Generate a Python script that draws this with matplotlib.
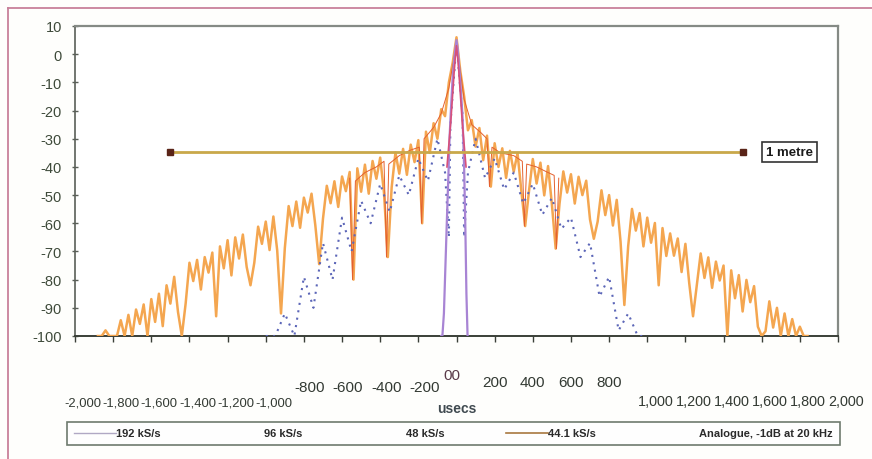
import numpy as np
import matplotlib
matplotlib.use("Agg")
import matplotlib.pyplot as plt
from matplotlib.lines import Line2D
import matplotlib.transforms as mtransforms

plt.rcParams['font.family'] = ['Liberation Sans', 'DejaVu Sans']

# ---------------- data ----------------
# 44.1 kS/s impulse response, sampled every 20 usec from -1880 to 1840
t_44k = np.arange(-1880, 1841, 20)
db_44k = [
    -100, -100, -98, -100, -100, -100, -94.4, -100, -92.5, -100,
    -90.6, -95.7, -88.8, -100, -86.9, -95, -85, -96.5, -82, -88.5,
    -79, -91.5, -100, -88.5, -74, -80.5, -73, -83.5, -72, -77.5,
    -70.4, -93, -68.2, -76, -66, -78.5, -65, -72.5, -64, -75.5,
    -82, -74, -61.2, -67.3, -59.4, -69.5, -57.6, -69.6, -92, -68.8,
    -53.9, -61, -52.3, -61.6, -50.9, -56.2, -49.5, -60.8, -74.5, -58.4,
    -46.7, -52.9, -45.1, -54.2, -43.4, -48.6, -41.8, -80, -40.5, -48.8,
    -39.2, -49.5, -37.9, -44.2, -36.7, -49.3, -72, -47.3, -34.9, -42.4,
    -33.6, -42.8, -32.1, -38.3, -30.5, -60, -27.5, -35, -24.5, -30,
    -19.5, -22, -10, -3, 6, -6, -15, -27, -23.4, -32.8,
    -26.2, -37.6, -28.9, -47, -31.6, -40, -33.4, -43.9, -34.3, -41.7,
    -35.1, -48.6, -61, -48.6, -37.2, -45.9, -38.5, -50.1, -39.7, -53.2,
    -69, -53.1, -41.6, -49.1, -42.6, -53, -43.5, -50, -44.9, -58.7,
    -65.5, -59.4, -48.3, -57.1, -50, -60.8, -51.7, -66.5, -89, -68.1,
    -54.9, -62.6, -56.4, -68.2, -58, -66.9, -59.9, -82, -61.7, -71.6,
    -63.6, -71.5, -65.4, -77.3, -67.3, -81.2, -93, -82, -70.7, -79.4,
    -72.1, -82.9, -73.6, -80.3, -75, -100, -76.7, -86.6, -78.4, -91.3,
    -80.1, -88, -82.3, -96.7, -100, -98.3, -87.7, -97, -90, -100,
    -92, -100, -94, -100, -96.7, -100, -100,
]

# 48 kS/s (red, visible mainly near the centre)
t_48k = [-560, -545, -530, -480, -420, -380, -367, -355,
         -300, -240, -195, -183, -170, -120, -80, -40, 0, 40,
         80, 130, 160, 173, 186, 230, 300, 345, 356, 368,
         420, 480, 512, 524, 536]
db_48k = [-44, -80, -45, -42, -40, -38, -72, -39,
          -36, -34, -33, -60, -30, -26, -21, -12, 4, -16,
          -25, -28, -30, -47, -33, -35, -36, -38, -61, -39,
          -40, -42, -43, -69, -44]

# 96 kS/s (blue dotted)
t_96k = [-1000, -950, -900, -850, -800, -750, -700, -650, -600, -550,
         -500, -450, -400, -350, -300, -250, -200, -150, -100, -60,
         -40, -32, 0, 32, 40, 60, 100, 150, 200, 250,
         300, 350, 400, 450, 500, 550, 600, 650, 700, 750,
         800, 850, 900, 950, 1000]
db_96k = [-100, -100, -92, -100, -79, -90, -67, -80, -58, -70,
          -52, -60, -46, -56, -43, -50, -37, -45, -30, -42,
          -65, -25, 4, -22, -65, -42, -30, -44, -37, -48,
          -42, -53, -46, -57, -51, -62, -58, -72, -67, -86,
          -79, -98, -92, -100, -100]

# 192 kS/s (violet, narrow)
t_192k = [-80, -74, -66, -58, -50, -42, -36, -28, -20, -12, -6, 0,
          6, 12, 20, 28, 32, 40, 46, 52, 58]
db_192k = [-100, -100, -92, -75, -58, -42, -29, -18, -8, -2, 2, 5,
           2, -3, -10, -18, -23, -40, -60, -85, -100]

# Analogue, -1dB at 20 kHz
t_analogue = [-50, -30, -20, -12, -6, 0, 6, 12, 20, 30, 50]
db_analogue = [-40, -24, -14, -6, -1, 3, -1, -6, -14, -24, -40]

# "1 metre" reference line
metre_t = [-1500, 1500]
metre_db = [-34.6, -34.6]

x_ticks = list(range(-2000, 2001, 200))
x_labels = ["-2,000", "-1,800", "-1,600", "-1,400", "-1,200", "-1,000",
            "-800", "-600", "-400", "-200", "0", "200", "400", "600", "800",
            "1,000", "1,200", "1,400", "1,600", "1,800", "2,000"]
y_ticks = list(range(-100, 11, 10))

series_labels = ["192 kS/s", "96 kS/s", "48 kS/s", "44.1 kS/s",
                 "Analogue, -1dB at 20 kHz"]

# ---------------- figure ----------------
W, H = 872, 460
fig = plt.figure(figsize=(W / 100, H / 100), dpi=100)
fig.patch.set_facecolor('#fefefc')

ax = fig.add_axes([75 / W, 1 - 337 / H, (838 - 75) / W, (337 - 27) / H])
ax.set_facecolor('white')

ax.plot(t_44k, db_44k, color='#f4a650', lw=1.8, zorder=3)
ax.plot(t_48k, db_48k, color='#e4602e', lw=0.7, zorder=4)
ax.plot(t_96k, db_96k, color='#5c66b8', lw=1.5, ls=(0, (1, 2.6)), zorder=5)
ax.plot(t_192k, db_192k, color='#a884d4', lw=1.6, zorder=6)
ax.plot(t_analogue, db_analogue, color='#d8507a', lw=1.2, zorder=6)
ax.plot(metre_t, metre_db, color='#c9a84a', lw=2, marker='s', ms=5,
        mfc='#5a2418', mec='#5a2418', zorder=7)
ax.text(1745, metre_db[0], '1 metre', ha='center', va='center',
        fontsize=9.5, fontweight='bold', color='#1a1a1a', zorder=8,
        bbox=dict(boxstyle='square,pad=0.3', fc='white', ec='#333333', lw=1.2))

ax.set_xlim(-2000, 2000)
ax.set_ylim(-100, 10)
ax.set_yticks(y_ticks)
ax.set_yticklabels([str(v) for v in y_ticks])
ax.set_xticks(x_ticks)
ax.set_xticklabels([])

ax.tick_params(axis='y', direction='inout', length=5, width=1, color='#5a5f58',
               labelsize=10.5, labelcolor='#3e4a3a', pad=7)
ax.tick_params(axis='x', direction='out', length=4.5, width=1, color='#3a3f38')

for s in ('top', 'right'):
    ax.spines[s].set_color('#858a85')
    ax.spines[s].set_linewidth(1.6)
ax.spines['left'].set_color('#5a5f58')
ax.spines['left'].set_linewidth(1.2)
ax.spines['bottom'].set_color('#3a3f38')
ax.spines['bottom'].set_linewidth(1.4)

# scattered x tick labels as in the original
trans = mtransforms.blended_transform_factory(ax.transData, fig.transFigure)
for v, lab in zip(x_ticks, x_labels):
    if v == 0:
        continue
    if v <= -1000:
        dx, yy, fs = 8, 1 - 403 / H, 9.4
    elif v < 0:
        dx, yy, fs = 6, 1 - 388 / H, 11
    elif v < 1000:
        dx, yy, fs = 0, 1 - 383 / H, 11
    else:
        dx, yy, fs = 8, 1 - 402 / H, 10.4
    tr = trans + mtransforms.ScaledTranslation(dx / 100, 0, fig.dpi_scale_trans)
    ax.text(v, yy, lab, transform=tr, ha='center', va='center', fontsize=fs,
            color='#333a33', clip_on=False)
tr0 = trans + mtransforms.ScaledTranslation(-5 / 100, 0, fig.dpi_scale_trans)
ax.text(0, 1 - 376 / H, '00', transform=tr0, ha='center', va='center',
        fontsize=11, color='#5a3a48', clip_on=False)
ax.text(0, 1 - 409 / H, 'usecs', transform=trans, ha='center', va='center',
        fontsize=10, fontweight='bold', color='#404a50', clip_on=False)

# legend
handles = [
    Line2D([], [], color='#b0a8c4', lw=1.0),
    Line2D([], [], color='none'),
    Line2D([], [], color='none'),
    Line2D([], [], color='#a87840', lw=1.2),
    Line2D([], [], color='none'),
]
leg = fig.legend(handles, series_labels, loc='center',
                 bbox_to_anchor=(453.5 / W, 1 - 434.5 / H), ncol=5,
                 frameon=True, fancybox=False, edgecolor='#4a5a4a',
                 prop={'size': 8, 'weight': 'bold'}, handlelength=3.8,
                 handletextpad=0.0, columnspacing=5.5, borderpad=0.6)
leg.get_frame().set_linewidth(1.2)
for txt in leg.get_texts():
    txt.set_color('#2a2a2a')

# pink outer border of the scan
fig.add_artist(Line2D([8 / W, 1], [1 - 9 / H, 1 - 9 / H], transform=fig.transFigure,
                      color='#c8809a', lw=1.3))
fig.add_artist(Line2D([8 / W, 8 / W], [0, 1 - 9 / H], transform=fig.transFigure,
                      color='#c8809a', lw=1.3))

assert len(t_44k) == len(db_44k)
fig.savefig('out.png', dpi=100, facecolor=fig.get_facecolor())
